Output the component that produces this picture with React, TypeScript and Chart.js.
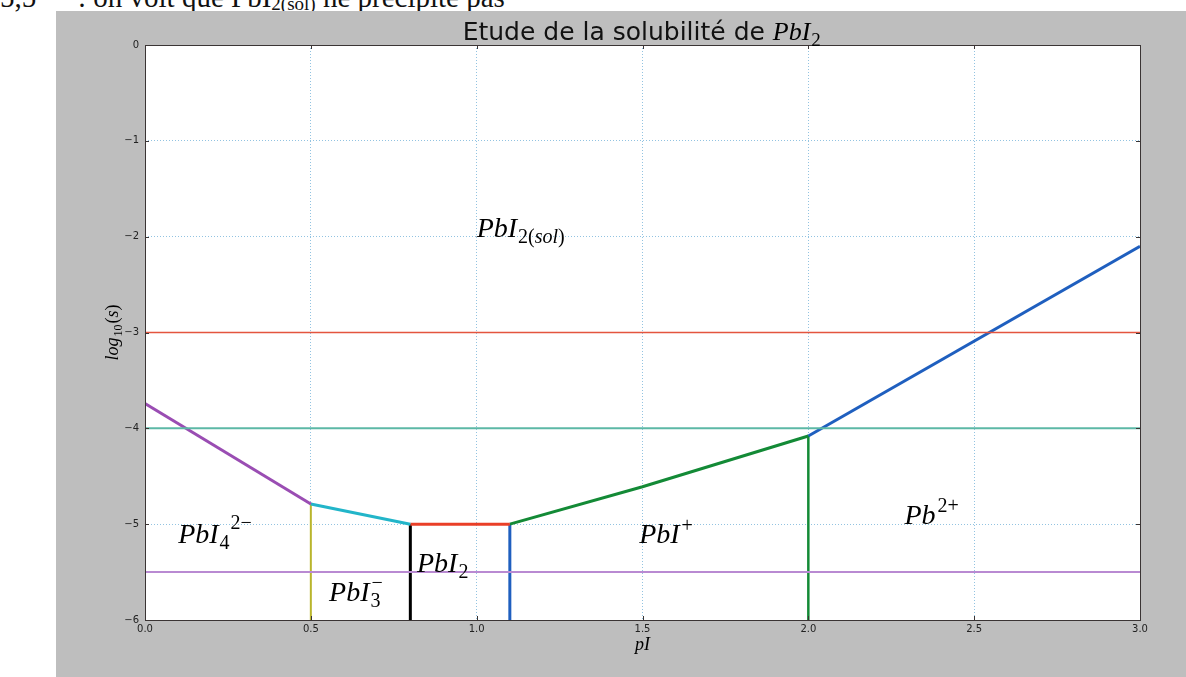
import React, { useEffect, useRef } from 'react';
import { Chart, registerables } from 'chart.js';
Chart.register(...registerables);

// ---- data ----
const xTickValues = [0, 0.5, 1.0, 1.5, 2.0, 2.5, 3.0];
const yTickValues = [0, -1, -2, -3, -4, -5, -6];

const pIRange = [0, 3];
const levelMinus3 = [-3, -3];
const levelMinus4 = [-4, -4];
const levelMinus55 = [-5.5, -5.5];

const pI_PbI4 = [0, 0.5];
const s_PbI4 = [-3.74, -4.79];
const pI_PbI3 = [0.5, 0.8];
const s_PbI3 = [-4.79, -5.0];
const pI_PbI2 = [0.8, 1.1];
const s_PbI2 = [-5.0, -5.0];
const pI_PbIp = [1.1, 1.5, 2.0];
const s_PbIp = [-5.0, -4.61, -4.08];
const pI_Pb = [2.0, 3.0];
const s_Pb = [-4.08, -2.1];

const boundaryPI = [0.5, 0.8, 1.1, 2.0];
const boundaryTop = [-4.79, -5.0, -5.0, -4.08];
const boundaryColors = ['#b9b52c', '#000000', '#1f5fbf', '#138a36'];
const boundaryWidths = [2, 3, 3, 2.5];

type Lbl = { base: string; sub?: string; sup?: string; after?: boolean; x: number; y: number };
const speciesLabels: Lbl[] = [
  { base: 'PbI', sub: '2(sol)', x: 1.0, y: -2.0 },
  { base: 'PbI', sub: '4', sup: '2−', after: true, x: 0.1, y: -5.2 },
  { base: 'PbI', sub: '3', sup: '−', x: 0.555, y: -5.8 },
  { base: 'PbI', sub: '2', x: 0.82, y: -5.5 },
  { base: 'PbI', sup: '+', x: 1.49, y: -5.2 },
  { base: 'Pb', sup: '2+', x: 2.29, y: -5.0 },
];

const SERIF = '"Liberation Serif", "DejaVu Serif", serif';
const SANS = '"DejaVu Sans", sans-serif';

const GREY_TOP = 11;
const CANVAS_H = 677 - GREY_TOP;

function pts(xs: number[], ys: number[]) {
  return xs.map((x, i) => ({ x, y: ys[i] }));
}

function drawMixed(ctx: CanvasRenderingContext2D, text: string, x: number, y: number, size: number): number {
  let cx = x;
  for (const ch of text) {
    const italic = /[a-zA-Z]/.test(ch);
    ctx.font = `${italic ? 'italic ' : ''}${size}px ${SERIF}`;
    ctx.fillText(ch, cx, y);
    cx += ctx.measureText(ch).width;
  }
  return cx - x;
}

function drawMath(ctx: CanvasRenderingContext2D, l: Lbl, x: number, y: number, S: number) {
  ctx.textAlign = 'left';
  ctx.textBaseline = 'alphabetic';
  ctx.fillStyle = '#000';
  ctx.font = `italic ${S}px ${SERIF}`;
  ctx.fillText(l.base, x, y);
  const cx = x + ctx.measureText(l.base).width;
  const s2 = Math.round(S * 0.72);
  let subW = 0;
  if (l.sub) subW = drawMixed(ctx, l.sub, cx + 1, y + S * 0.22, s2);
  if (l.sup) {
    const sx = l.after ? cx + subW + 2 : cx + 2;
    drawMixed(ctx, l.sup, sx, y - S * (l.after ? 0.5 : 0.42), s2);
  }
}

const decor = {
  id: 'decor',
  beforeDraw(chart: any) {
    const { ctx, chartArea: a } = chart;
    ctx.save();
    ctx.fillStyle = '#ffffff';
    ctx.fillRect(a.left, a.top, a.right - a.left, a.bottom - a.top);
    ctx.restore();
  },
  afterDatasetsDraw(chart: any) {
    const { ctx, chartArea: a, scales } = chart;
    ctx.save();
    ctx.strokeStyle = '#3a3434';
    ctx.lineWidth = 1;
    ctx.beginPath();
    for (const v of xTickValues) {
      const px = Math.round(scales.x.getPixelForValue(v)) + 0.5;
      ctx.moveTo(px, a.bottom); ctx.lineTo(px, a.bottom - 4);
      ctx.moveTo(px, a.top); ctx.lineTo(px, a.top + 4);
    }
    for (const v of yTickValues) {
      const py = Math.round(scales.y.getPixelForValue(v)) + 0.5;
      ctx.moveTo(a.left, py); ctx.lineTo(a.left + 4, py);
      ctx.moveTo(a.right, py); ctx.lineTo(a.right - 4, py);
    }
    ctx.stroke();
    ctx.strokeRect(Math.round(a.left) + 0.5, Math.round(a.top) + 0.5, Math.round(a.right - a.left), Math.round(a.bottom - a.top));
    ctx.restore();
  },
  afterDraw(chart: any) {
    const { ctx, chartArea: a, scales } = chart;
    ctx.save();
    for (const l of speciesLabels) {
      drawMath(ctx, l, scales.x.getPixelForValue(l.x), scales.y.getPixelForValue(l.y), 28);
    }
    // title
    const t1 = 'Etude de la solubilité de ';
    ctx.font = `25px ${SANS}`;
    const w1 = ctx.measureText(t1).width;
    ctx.font = `italic 26px ${SERIF}`;
    const w2 = ctx.measureText('PbI').width + 12;
    const cxm = (a.left + a.right) / 2;
    const tx = cxm - (w1 + w2) / 2;
    const tby = a.top - 5;
    ctx.fillStyle = '#111';
    ctx.textAlign = 'left';
    ctx.textBaseline = 'alphabetic';
    ctx.font = `25px ${SANS}`;
    ctx.fillText(t1, tx, tby);
    drawMath(ctx, { base: 'PbI', sub: '2', x: 0, y: 0 }, tx + w1, tby, 26);
    // x label
    ctx.fillStyle = '#000';
    ctx.font = `italic 18px ${SERIF}`;
    ctx.textAlign = 'center';
    ctx.fillText('pI', cxm, a.bottom + 30);
    // y label
    ctx.save();
    ctx.translate(a.left - 32, (a.top + a.bottom) / 2);
    ctx.rotate(-Math.PI / 2);
    ctx.textAlign = 'left';
    ctx.font = `italic 18px ${SERIF}`;
    const wl = ctx.measureText('log').width;
    ctx.font = `12px ${SERIF}`;
    const w10 = ctx.measureText('10').width;
    ctx.font = `18px ${SERIF}`;
    const wp = ctx.measureText('()').width;
    ctx.font = `italic 18px ${SERIF}`;
    const ws = ctx.measureText('s').width;
    const total = wl + w10 + wp + ws + 2;
    let lx = -total / 2;
    ctx.font = `italic 18px ${SERIF}`;
    ctx.fillText('log', lx, 5); lx += wl + 1;
    ctx.font = `12px ${SERIF}`;
    ctx.fillText('10', lx, 9); lx += w10 + 1;
    drawMixed(ctx, '(s)', lx, 5, 18);
    ctx.restore();
    ctx.restore();
  },
};

export default function App() {
  const ref = useRef<HTMLCanvasElement | null>(null);
  useEffect(() => {
    if (!ref.current) return;
    const thick = { pointRadius: 0, fill: false, tension: 0 } as any;
    const datasets: any[] = [
      { data: pts(pIRange, levelMinus3), borderColor: '#e4553f', borderWidth: 1.5, ...thick },
      { data: pts(pIRange, levelMinus4), borderColor: '#5cb8a6', borderWidth: 2, ...thick },
      { data: pts(pIRange, levelMinus55), borderColor: '#b98ad2', borderWidth: 2, ...thick },
      { data: pts(pI_PbI4, s_PbI4), borderColor: '#9a4db3', borderWidth: 3, ...thick },
      { data: pts(pI_PbI3, s_PbI3), borderColor: '#22b5c9', borderWidth: 3, ...thick },
      { data: pts(pI_PbI2, s_PbI2), borderColor: '#ea3f27', borderWidth: 3, ...thick },
      { data: pts(pI_PbIp, s_PbIp), borderColor: '#138a36', borderWidth: 3, ...thick },
      { data: pts(pI_Pb, s_Pb), borderColor: '#1f5fbf', borderWidth: 3, ...thick },
    ];
    boundaryPI.forEach((x, i) => {
      datasets.push({
        data: pts([x, x], [-6, boundaryTop[i]]),
        borderColor: boundaryColors[i],
        borderWidth: boundaryWidths[i],
        ...thick,
      });
    });
    const chart = new Chart(ref.current, {
      type: 'line',
      data: { datasets },
      options: {
        animation: false,
        responsive: false,
        layout: { padding: { top: 45 - GREY_TOP, right: 46, left: 0, bottom: 0 } },
        plugins: { legend: { display: false }, tooltip: { enabled: false }, title: { display: false } },
        scales: {
          x: {
            type: 'linear',
            min: 0,
            max: 3,
            afterFit: (s: any) => { s.height = 57; },
            afterBuildTicks: (s: any) => { s.ticks = xTickValues.map((v) => ({ value: v })); },
            ticks: {
              callback: (v: any) => Number(v).toFixed(1),
              font: { family: 'DejaVu Sans', size: 10 },
              color: '#222',
              padding: 3,
              maxRotation: 0,
              autoSkip: false,
            },
            grid: { color: 'rgba(110,175,215,0.75)', lineWidth: 1, drawTicks: false },
            border: { display: false, dash: [1, 2] },
          },
          y: {
            type: 'linear',
            min: -6,
            max: 0,
            afterFit: (s: any) => { s.width = 89; },
            afterBuildTicks: (s: any) => { s.ticks = yTickValues.map((v) => ({ value: v })); },
            ticks: {
              callback: (v: any) => (Number(v) === 0 ? '0' : '−' + Math.abs(Number(v))),
              font: { family: 'DejaVu Sans', size: 10 },
              color: '#222',
              padding: 6,
              autoSkip: false,
            },
            grid: { color: 'rgba(110,175,215,0.75)', lineWidth: 1, drawTicks: false },
            border: { display: false, dash: [1, 2] },
          },
        },
      },
      plugins: [decor],
    } as any);
    return () => chart.destroy();
  }, []);

  const topText = { position: 'absolute' as const, top: -17, whiteSpace: 'nowrap' as const, fontFamily: SERIF, fontSize: 29, lineHeight: '29px', color: '#111' };

  return (
    <div style={{ position: 'fixed', left: 0, top: 0, width: 1186, height: 677, background: '#fff', overflow: 'hidden' }}>
      <div style={{ ...topText, left: 0 }}>5,5</div>
      <div style={{ ...topText, left: 78 }}>
        : on voit que PbI<sub style={{ fontSize: 19, verticalAlign: '-3px' }}>2(sol)</sub> ne précipite pas
      </div>
      <div style={{ position: 'absolute', left: 56, top: GREY_TOP, width: 1130, height: CANVAS_H, background: '#bebebe' }}>
        <canvas ref={ref} width={1130} height={CANVAS_H} style={{ display: 'block', width: 1130, height: CANVAS_H }} />
      </div>
    </div>
  );
}
